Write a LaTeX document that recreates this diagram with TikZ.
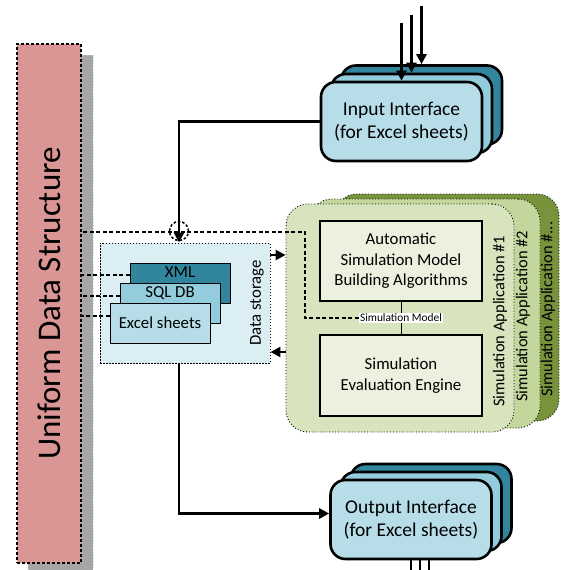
\documentclass[tikz,border=0pt]{standalone}
\usepackage{fontspec}
\setmainfont{Carlito}
\usetikzlibrary{arrows.meta}

\definecolor{tealdark}{RGB}{49,133,156}
\definecolor{tealmid}{RGB}{147,205,221}
\definecolor{teallight}{RGB}{183,222,232}
\definecolor{storebg}{RGB}{219,238,244}
\definecolor{udsred}{RGB}{217,150,148}
\definecolor{shadowgray}{RGB}{166,166,166}
\definecolor{greenone}{RGB}{215,228,189}
\definecolor{greentwo}{RGB}{195,214,155}
\definecolor{greenthree}{RGB}{119,147,60}
\definecolor{algfill}{RGB}{235,241,222}

\tikzset{
  iface/.style={draw, line width=2.6pt, rounded corners=15pt, minimum width=161pt,
    minimum height=79pt, inner sep=0pt, align=center,
    font=\fontsize{19.5}{23.5}\selectfont},
  appbox/.style={draw, dotted, line width=0.9pt, rounded corners=22pt, inner sep=0pt},
  applabel/.style={rotate=90, anchor=west, inner sep=0pt,
    font=\fontsize{16.5}{20}\selectfont},
  algbox/.style={draw, line width=1.8pt, fill=algfill, minimum width=162pt,
    minimum height=80pt, inner sep=0pt, align=center,
    font=\fontsize{16.8}{20.5}\selectfont},
  dbbox/.style={draw, line width=0.8pt, minimum width=100pt, minimum height=40pt,
    inner sep=0pt},
  dbtext/.style={anchor=north, inner sep=3.5pt, font=\fontsize{16.8}{20.5}\selectfont},
  flow/.style={line width=2.6pt, -{Triangle[length=10pt,width=10pt]}},
  link/.style={line width=1.8pt, dash pattern=on 4pt off 2.5pt},
}

\begin{document}
\begin{tikzpicture}[x=1pt, y=-1pt]
  \useasboundingbox (0,0) rectangle (560,570);
  % Uniform data structure with its shadow
  \node[fill=shadowgray, draw=gray!40, dotted, line width=1pt, minimum width=65pt,
    minimum height=517pt, inner sep=0pt] (udsshadow) at (60.5,313.5) {};
  \node[fill=udsred, draw, line width=2pt, dash pattern=on 3pt off 2pt,
    minimum width=64pt, minimum height=519pt, inner sep=0pt] (uds) at (49,303.5) {};
  \node[rotate=90, font=\fontsize{33}{40}\selectfont] (udstitle) at (uds.center)
    {Uniform Data Structure};
  % Input interface (three sheets)
  \node[iface, fill=tealdark] (inback) at (421.5,105) {};
  \node[iface, fill=tealmid] (inmid) at (411.5,113.5) {};
  \node[iface, fill=teallight] (infront) at (401.5,121.5) {Input Interface\\(for Excel sheets)};
  \foreach \n/\y in {front/23, mid/15, back/6} {
    \draw[flow] (in\n.north |- 0,\y) -- (in\n.north);
  }
  % Simulation applications
  \node[appbox, fill=greenthree, minimum width=224pt, minimum height=227pt] (simthree) at (447,307.5) {};
  \node[appbox, fill=greentwo, minimum width=230pt, minimum height=229pt] (simtwo) at (425,313.5) {};
  \node[appbox, fill=greenone, minimum width=228pt, minimum height=228pt] (simone) at (400,318) {};
  \node[applabel] (simthreelabel) at (548,397) {Simulation Application \#...};
  \node[applabel] (simtwolabel) at (523,402) {Simulation Application \#2};
  \node[applabel] (simonelabel) at (500,407) {Simulation Application \#1};
  \node[algbox] (auto) at (401,261) {Automatic\\Simulation Model\\Building Algorithms};
  \node[algbox, minimum height=81pt] (eval) at (401,375.5) {Simulation\\Evaluation Engine};
  \draw[line width=0.7pt] (auto) -- node[fill=white, inner sep=1pt,
    font=\fontsize{11.4}{13}\selectfont] (simlabel) {Simulation Model} (eval);
  % Data storage
  \node[fill=storebg, draw, line width=0.9pt, dash pattern=on 1.5pt off 1.5pt,
    minimum width=170pt, minimum height=120pt, inner sep=0pt] (store) at (185,303) {};
  \node[rotate=90, font=\fontsize{16.8}{20}\selectfont] (storelabel) at (257,303) {Data storage};
  \node[dbbox, fill=tealdark] (xml) at (180,283) {};
  \node[dbtext] (xmltext) at (xml.north) {XML};
  \node[dbbox, fill=tealmid] (sqldb) at (170,303) {};
  \node[dbtext] (sqltext) at (sqldb.north) {SQL DB};
  \node[dbbox, fill=teallight, font=\fontsize{16.8}{20.5}\selectfont] (excel) at (160,323) {Excel sheets};
  % Dashed links to the uniform data structure
  \coordinate (xmlin) at ([yshift=8pt]xml.west);
  \coordinate (sqlin) at ([yshift=7pt]sqldb.west);
  \coordinate (excelin) at ([yshift=7pt]excel.west);
  \foreach \c in {xmlin, sqlin, excelin} {
    \draw[link] (\c) -- (\c -| uds.east);
  }
  \coordinate (modelbend) at (305,232);
  \draw[link] (simlabel.west) -| (modelbend) -- (modelbend -| uds.east);
  \node[circle, draw, line width=1.5pt, dash pattern=on 2.5pt off 2pt,
    minimum size=19pt, inner sep=0pt] (junction) at (179,231) {};
  % Output interface (three sheets)
  \node[iface, fill=tealdark] (outback) at (431,503.5) {};
  \node[iface, fill=tealmid] (outmid) at (421,511.5) {};
  \node[iface, fill=teallight] (outfront) at (411,519.5) {Output Interface\\(for Excel sheets)};
  \foreach \dx in {0,9,18} {
    \draw[line width=2.6pt] ([xshift=\dx pt]outfront.south) -- ++(0,14);
  }
  % Flows
  \draw[flow] (infront.west) -| (store.north -| junction);
  \draw[flow] (store.south -| junction) |- ([yshift=6pt]outfront.west);
  \coordinate (toapp) at ([yshift=48pt]store.east);
  \coordinate (fromapp) at ([yshift=-49pt]store.east);
  \draw[flow] (toapp) -- (toapp -| simone.west);
  \draw[flow] (fromapp -| simone.west) -- (fromapp);
\end{tikzpicture}
\end{document}
